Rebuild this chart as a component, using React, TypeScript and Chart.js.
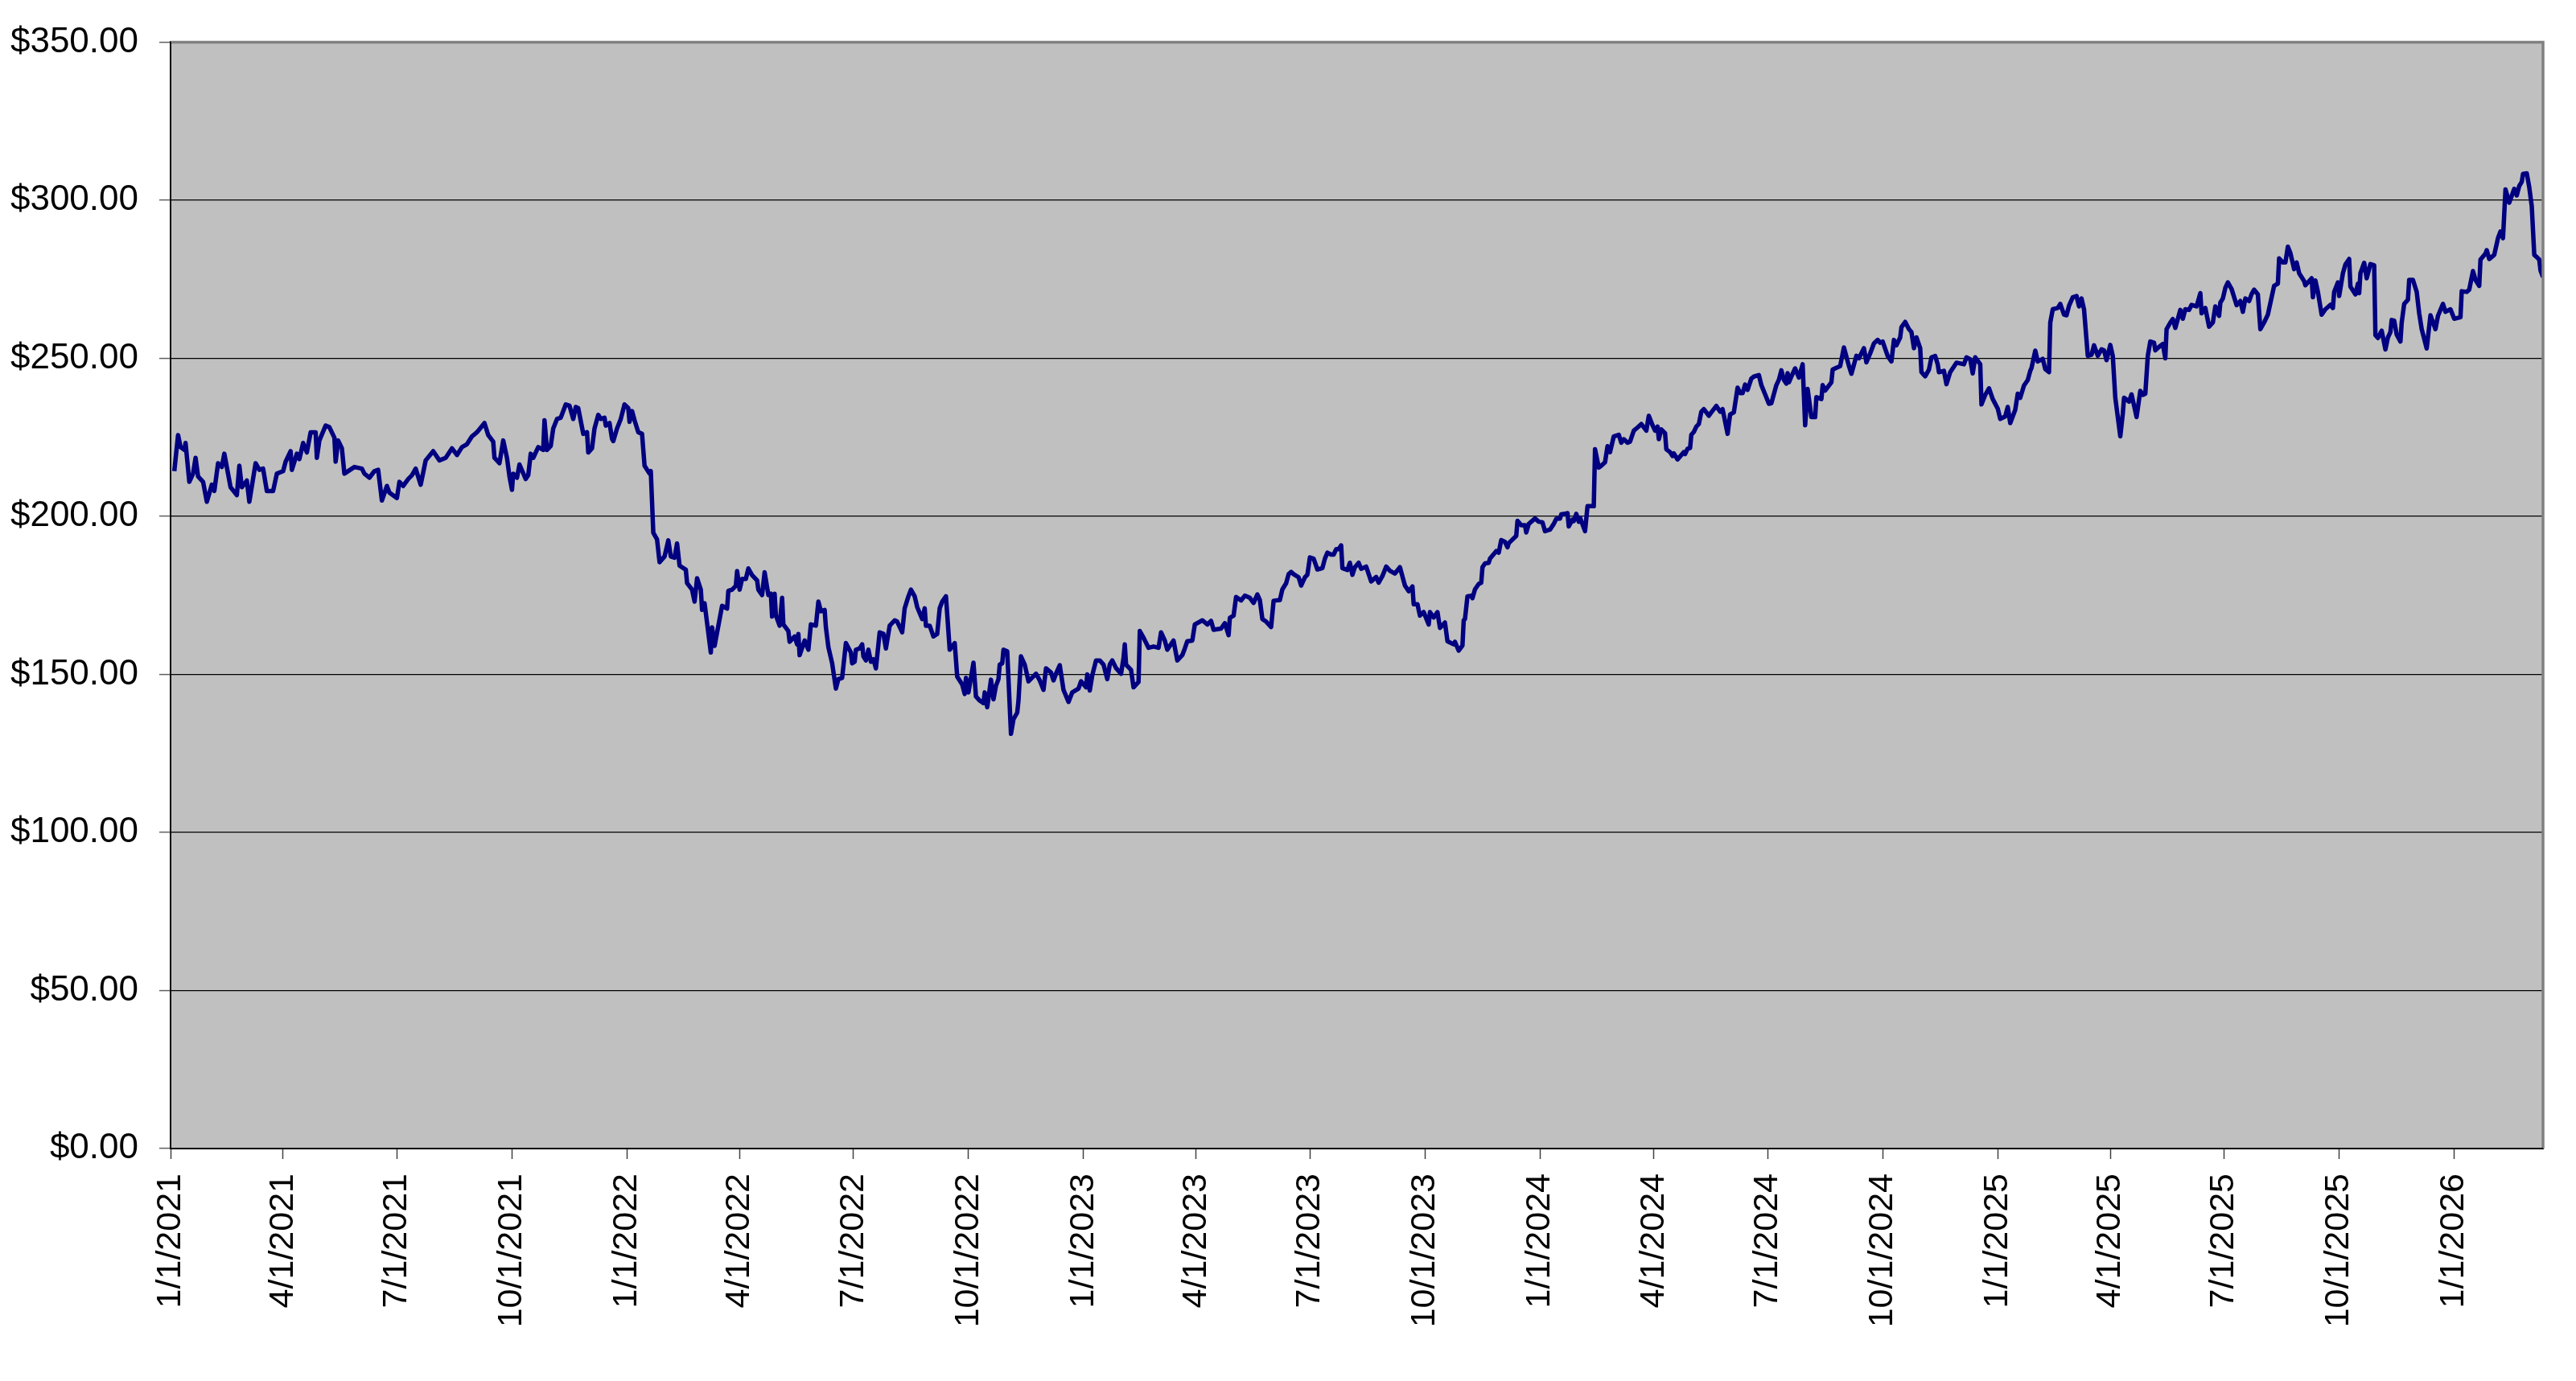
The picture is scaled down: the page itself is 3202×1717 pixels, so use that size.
import React, { useEffect, useRef } from "react";
import { Chart, registerables } from "chart.js";

Chart.register(...registerables);

// Days counted from 1/1/2021 (the date of the first axis tick)
const START_DATE = Date.UTC(2021, 0, 1);
const LAST_DAY = 1897;

const quarterLabels = [
  "1/1/2021", "4/1/2021", "7/1/2021", "10/1/2021",
  "1/1/2022", "4/1/2022", "7/1/2022", "10/1/2022",
  "1/1/2023", "4/1/2023", "7/1/2023", "10/1/2023",
  "1/1/2024", "4/1/2024", "7/1/2024", "10/1/2024",
  "1/1/2025", "4/1/2025", "7/1/2025", "10/1/2025",
  "1/1/2026",
];

const yMin = 0;
const yMax = 350;
const yStep = 50;

const days = [
  3, 6, 8, 11, 12, 15, 18, 20, 22, 26, 29, 33, 35, 38, 41, 43, 48, 53, 55, 57, 61, 63, 68, 71, 74, 77, 82, 85, 90, 92, 96, 97, 101, 103, 106, 109, 112, 116, 117, 119, 124, 127, 131, 132, 134, 137, 139, 147, 153, 155, 159, 163, 166, 169, 173, 175, 181, 183, 186, 190, 193, 196, 200, 204, 210, 215, 220, 225, 229, 233, 237,
  241, 245, 251, 254, 258, 259, 263, 266, 269, 271, 273, 274, 277, 279, 284, 286, 288, 290, 294, 298, 299, 301, 304, 306, 309, 312, 314, 316, 319, 322, 324, 326, 330, 333, 334, 337, 339, 342, 344, 347, 348, 351, 353, 354, 357, 360, 363, 366, 367, 369, 371, 374, 377, 379, 383, 384, 386, 389, 391,
  395, 398, 400, 403, 405, 407, 412, 413, 417, 419, 421, 424, 425, 427, 432, 433, 435, 441, 445, 446, 449, 452, 453, 455, 457, 460, 462, 465, 469, 470, 473, 475, 478, 480, 481, 483, 484, 487, 489, 490, 494, 495, 499, 501, 502, 503, 507, 510, 512, 516, 518, 520, 523, 524, 526, 529, 532, 534, 537, 540, 544, 545, 547, 548, 551, 553, 554, 556, 558, 560, 562, 564, 567, 570, 572, 575, 579, 581, 585, 587, 590, 592, 595, 597, 601, 603, 604, 607, 610, 613, 615, 617, 620, 623,
  627, 629, 633, 635, 636, 638, 642, 644, 647, 650, 651, 653, 656, 658, 660, 662, 663, 665, 666, 669, 672, 674, 677, 678, 680, 683, 686, 692, 695, 698, 700, 704, 706, 708, 711, 714, 718, 721, 726, 728, 732, 733, 735, 737, 740, 743, 746, 749, 751, 753, 756, 760, 762, 763, 764, 768, 770, 774, 775, 778, 782, 786, 790, 792, 795, 797, 802, 805, 809, 811, 813, 817, 819, 825, 829, 832, 834, 840, 843, 846, 847, 850, 852, 856, 859, 863, 866, 869,
  871, 873, 876, 880, 882, 887, 889, 892, 894, 896, 898, 902, 904, 907, 909, 911, 914, 917, 921, 923, 925, 928, 930, 932, 934, 936, 937, 941, 943, 945, 947, 950, 952, 956, 960, 964, 966, 969, 972, 975, 979, 983, 987, 990, 993, 994, 997, 999, 1002, 1006, 1007, 1010, 1013, 1015, 1019, 1021, 1026, 1027, 1030, 1033, 1034, 1035, 1037, 1040, 1041, 1043, 1046, 1048, 1049, 1051, 1054, 1055, 1060, 1062, 1064, 1067, 1069, 1070, 1076, 1077, 1080, 1083, 1084, 1086, 1091, 1094, 1097, 1099, 1103, 1106, 1108, 1111, 1112, 1115, 1117, 1118,
  1121, 1122, 1124, 1126, 1127, 1131, 1133, 1138, 1139, 1142, 1144, 1147, 1149, 1151, 1154, 1158, 1160, 1162, 1165, 1167, 1170, 1173, 1176, 1180, 1182, 1185, 1187, 1189, 1190, 1192, 1195, 1196, 1199, 1201, 1202, 1205, 1210, 1211, 1213, 1215, 1216, 1218, 1220, 1222, 1224, 1226, 1230, 1232, 1236, 1239, 1241, 1245, 1247, 1250, 1253, 1255, 1257, 1259, 1261, 1264, 1266, 1270, 1272, 1275, 1278, 1280, 1284, 1286, 1288, 1290, 1292, 1293, 1294, 1296, 1299, 1302, 1305, 1307, 1309, 1312, 1315, 1316, 1320, 1321, 1323, 1328, 1329, 1332, 1335, 1338, 1342, 1344, 1348, 1350, 1354, 1356,
  1359, 1362, 1365, 1367, 1369, 1373, 1376, 1378, 1380, 1383, 1384, 1387, 1390, 1392, 1394, 1396, 1399, 1400, 1403, 1406, 1408, 1411, 1413, 1414, 1418, 1420, 1423, 1428, 1434, 1436, 1439, 1441, 1443, 1447, 1448, 1451, 1454, 1457, 1461, 1463, 1467, 1469, 1471, 1475, 1477, 1479, 1482, 1485, 1487, 1488, 1491, 1493, 1497, 1499, 1502, 1503, 1505, 1509, 1511, 1514, 1516, 1518, 1521, 1524, 1526, 1528, 1530, 1533, 1536, 1538, 1541, 1544, 1546, 1548, 1551, 1553, 1555, 1559, 1561, 1562, 1566, 1568, 1572, 1575, 1577, 1579, 1581, 1583, 1586, 1587, 1590, 1593, 1595, 1596, 1599, 1601,
  1603, 1607, 1609, 1611, 1614, 1616, 1620, 1623, 1624, 1627, 1630, 1633, 1635, 1638, 1639, 1641, 1643, 1645, 1648, 1652, 1655, 1657, 1659, 1662, 1664, 1666, 1669, 1671, 1674, 1677, 1680, 1682, 1685, 1686, 1689, 1691, 1693, 1695, 1698, 1700, 1702, 1706, 1707, 1712, 1713, 1715, 1717, 1720, 1723, 1727, 1729, 1730, 1733, 1734, 1737, 1739, 1742, 1743, 1747, 1749, 1750, 1751, 1754, 1756, 1759, 1762, 1763, 1765, 1768, 1771, 1773, 1775, 1776, 1778, 1780, 1783, 1784, 1786, 1789, 1790, 1793, 1796, 1798, 1800, 1804, 1807, 1811, 1813, 1817, 1819, 1823, 1826, 1831, 1832, 1836, 1838, 1841, 1843, 1846, 1847, 1851, 1852, 1854, 1858, 1861, 1863, 1865, 1867, 1870, 1874, 1876, 1878, 1880, 1881, 1884, 1886, 1888, 1890, 1892, 1894, 1895, 1897,
];

const prices = [
  214.3, 225.7, 221.9, 221, 223.2, 210.9, 213.5, 218.5, 212.6, 210.9, 204.6, 210, 208, 216.8, 215.6, 219.8, 209.2, 206.7, 216, 209.2, 211.3, 204.6, 216.8, 214.7, 215.1, 208, 208, 213.5, 214.3, 217.3, 220.6, 214.7, 219.8, 218.1, 223.2, 220.2, 226.6, 226.6, 218.5, 224, 228.7, 228.2, 224.9, 217.3, 224, 221.5, 213.5, 215.6, 215.1, 213.5, 212.2, 214.3, 214.7, 205, 209.6, 207.5, 205.8, 210.9, 209.6, 211.8, 213, 215.1, 210, 217.7, 220.6, 217.7, 218.5, 221.5, 219.4, 221.9, 222.8,
  225.3, 226.6, 229.5, 225.7, 223.6, 218.5, 216.8, 224, 218.5, 212.6, 208.4, 213.5, 212.2, 216.4, 211.8, 213, 219.8, 218.5, 221.9, 221, 230.4, 221, 222.3, 227.8, 230.8, 231.2, 233.3, 235.4, 235, 230.8, 234.6, 234.2, 226.1, 226.6, 220.2, 221.5, 227.8, 232.1, 230.8, 231.2, 228.7, 229.5, 224.5, 223.8, 227.8, 230.8, 235.4, 234.2, 229.9, 233.3, 230.4, 226.6, 226.1, 216, 213.5, 214.3, 194.8, 192.7, 185.5,
  187.3, 192.4, 187.3, 186.9, 191.4, 184.4, 183.1, 178.9, 176.8, 173, 180.4, 176.8, 170.4, 172.5, 156.9, 164.9, 159, 171.7, 170.8, 176.4, 176.8, 178, 182.7, 176.8, 180.2, 180.2, 183.5, 181.4, 179.7, 176.8, 175.1, 182.3, 175.1, 175.5, 168.3, 175.5, 168.7, 165.4, 174.2, 165.8, 163.7, 160.3, 162, 159.5, 162.8, 156.1, 160.7, 157.8, 165.8, 165.4, 173, 170, 170.4, 164.9, 158.6, 153.5, 145.5, 148.5, 148.9, 159.9, 156.9, 153.5, 154, 157.8, 158.2, 159.5, 155.7, 154.4, 157.8, 154, 154.8, 151.9, 163.3, 162.8, 158.2, 165.4, 167.1, 166.7, 163.3, 170.9, 174.7, 176.8, 174.7, 171.3, 167.5, 170.9, 165.4, 165.4, 162, 162.8, 170.9, 173, 174.7, 157.8,
  159.9, 149.3, 146.8, 143.8, 148.9, 144.3, 153.7, 143, 141.7, 140.9, 144.3, 139.6, 148.3, 142.1, 146.4, 148.5, 153.1, 153.5, 157.8, 157.3, 131.2, 135.8, 137.9, 141.7, 155.7, 153.1, 147.8, 150.2, 148.1, 145.1, 151.9, 150.6, 148.1, 150.2, 152.9, 145.1, 141.3, 144.3, 145.5, 147.8, 145.9, 150, 144.9, 149.7, 154.4, 154.4, 153.1, 148.5, 153.1, 154.4, 152, 150.2, 155.2, 159.5, 153.1, 151.4, 145.9, 147.6, 163.7, 161.6, 158.4, 158.8, 158.4, 163.3, 160.7, 157.8, 160.7, 154.4, 156.1, 158.2, 160.5, 160.7, 165.8, 167.1, 165.8, 166.9, 164.1, 164.5, 166.2, 162.4, 167.9, 168.6, 174.5, 173.4, 174.9, 174.2, 172.6, 175.3,
  173.5, 167.5, 166.7, 165, 173.3, 173.5, 176.9, 178.8, 181.7, 182.4, 181.7, 180.7, 178.1, 180.7, 181.5, 187, 186.6, 183.2, 183.6, 186.6, 188.5, 187.9, 187.9, 189.6, 189.6, 190.8, 183.6, 183, 185.3, 181.5, 183.9, 185.3, 183.4, 184.1, 179.4, 180.8, 179, 181.1, 184.1, 182.8, 181.9, 183.9, 178.1, 176.3, 177.8, 172.2, 172.2, 168.6, 169.7, 165.8, 169.7, 168, 169.7, 164.7, 166.4, 160.5, 159.5, 160.3, 157.5, 159.1, 167.1, 167.5, 174.7, 174.9, 174.1, 176.9, 178.6, 179, 183.9, 185.1, 185.3, 186.6, 189, 188.5, 192.5, 191.9, 190.2, 191.5, 193.8, 198.6, 197.2, 197.2, 194.9, 197.6, 199.3, 198.3, 198.1, 195.3, 195.8, 197.6, 199.2, 199.3, 200.6, 200.8, 201, 196.8,
  199, 198.5, 200.8, 198.3, 199.6, 195.3, 203.2, 203.2, 221.2, 215.4, 216, 217.1, 222.2, 220.3, 225.3, 225.8, 223.3, 224.4, 223.3, 223.6, 227.1, 228.1, 229.2, 227.1, 231.8, 228.8, 227.1, 228.4, 224.4, 227.5, 226.3, 221.2, 220.3, 219.1, 219.9, 218, 220.3, 219.7, 221.4, 221.6, 225.8, 226.7, 228.4, 229.2, 233.1, 233.9, 231.8, 232.9, 234.9, 233.1, 233.9, 226.1, 232.2, 232.9, 240.7, 239, 239, 241.7, 240, 243.6, 244.2, 244.7, 241.5, 238.6, 235.6, 235.8, 241.5, 243.2, 246.2, 243.2, 242, 245.3, 242.4, 244.2, 246.8, 243.9, 248.1, 228.8, 240.3, 231.4, 231.4, 237.7, 237.1, 241.5, 239.8, 242.4, 246.4, 247, 247.5, 253.4, 247.6, 245.1, 250.8, 250, 253.2, 248.7,
  251.5, 254.7, 255.8, 254.9, 255.3, 250.7, 249, 255.8, 254.1, 256.6, 259.8, 261.5, 259.2, 258.3, 253.2, 256.6, 253.2, 245.6, 244.3, 246.4, 250.3, 250.7, 248.1, 245.6, 246, 241.8, 245.6, 248.6, 248.1, 250.3, 249.7, 245.2, 250.3, 248.1, 235.4, 238.4, 240.5, 237.1, 234.1, 230.8, 231.6, 234.6, 229.5, 233.7, 238.8, 237.5, 241.4, 243.1, 246, 246.9, 252.4, 249, 249.8, 246.6, 245.6, 261.3, 265.5, 265.9, 267.2, 263.8, 263.6, 266.6, 269.3, 269.7, 266.4, 268.9, 265.5, 250.8, 251.1, 254.1, 250.8, 252.8, 252.5, 249.4, 254.2, 250.7, 237.5, 225.3, 232.5, 237.5, 236.3, 238.6, 231.4, 239.7, 238.4, 238.8, 250.8, 255.3, 254.9, 252.5, 253.6, 254.5, 250, 259.2, 261.3, 262.4,
  259.6, 265.3, 262.5, 265.5, 265.3, 266.9, 266.4, 270.6, 264.2, 265.9, 260, 261.3, 266.4, 263.4, 267.6, 268.9, 272.3, 274, 271.9, 266.8, 268.1, 264.7, 268.9, 268.1, 270.3, 271.7, 270.2, 259.2, 261.3, 263.8, 269.3, 272.9, 273.6, 281.6, 280.3, 280.3, 285.3, 283.3, 278.2, 280.3, 276.9, 274.4, 273.1, 275.3, 269.3, 274.6, 271, 263.8, 265.5, 266.9, 265.9, 271, 274, 269.7, 276.9, 279.7, 281.4, 272.7, 270.2, 273.6, 270.6, 276.9, 280.2, 275.3, 279.8, 279.4, 257.3, 256.4, 258.7, 252.8, 256.6, 258.3, 262.1, 261.9, 257.5, 255.3, 261.3, 267.2, 268.5, 274.8, 274.8, 271, 264.2, 259.2, 253.1, 263.6, 259.2, 263.4, 267.2, 264.7, 265.5, 262.5, 263, 271.2, 271, 271.7, 277.6, 274.8, 272.9, 281.2, 283.1, 284.2, 281.4, 282.7, 288, 290.1, 288, 303.4, 299.2, 303.6, 301.5, 304.5, 305.8, 308.3, 308.5, 304.1, 298.1, 282.7, 282, 281.2, 277.8, 275.7,
];

function dayOfLabel(label: string): number {
  const [m, d, y] = label.split("/").map(Number);
  return Math.round((Date.UTC(y, m - 1, d) - START_DATE) / 86400000);
}

const FONT = "'Liberation Sans', Arial, sans-serif";

export default function App() {
  const canvasRef = useRef<HTMLCanvasElement | null>(null);

  useEffect(() => {
    const canvas = canvasRef.current;
    if (!canvas) return;

    const tickDays = quarterLabels.map(dayOfLabel);
    const labelByDay: Record<number, string> = {};
    tickDays.forEach((d, i) => (labelByDay[d] = quarterLabels[i]));

    const plotFrame = {
      id: "plotFrame",
      beforeDraw(chart: any) {
        const { ctx, chartArea: a } = chart;
        ctx.save();
        ctx.fillStyle = "#C0C0C0";
        ctx.fillRect(a.left, a.top, a.right - a.left, a.bottom - a.top);
        ctx.restore();
      },
      afterDraw(chart: any) {
        const { ctx, chartArea: a } = chart;
        ctx.save();
        ctx.strokeStyle = "#808080";
        ctx.lineWidth = 3.5;
        ctx.beginPath();
        ctx.moveTo(a.left, a.top);
        ctx.lineTo(a.right, a.top);
        ctx.lineTo(a.right, a.bottom);
        ctx.stroke();
        ctx.strokeStyle = "#000000";
        ctx.lineWidth = 2;
        ctx.beginPath();
        ctx.moveTo(a.left, a.top);
        ctx.lineTo(a.left, a.bottom);
        ctx.lineTo(a.right, a.bottom);
        ctx.stroke();
        ctx.restore();
      },
    };

    const chart = new Chart(canvas, {
      type: "line",
      data: {
        datasets: [
          {
            data: days.map((d, i) => ({ x: d, y: prices[i] })),
            borderColor: "#000080",
            borderWidth: 5.5,
            borderJoinStyle: "round",
            pointRadius: 0,
            tension: 0,
            fill: false,
          },
        ],
      },
      options: {
        animation: false,
        responsive: false,
        maintainAspectRatio: false,
        layout: { padding: { top: 47, right: 41, left: 0, bottom: 0 } },
        plugins: {
          legend: { display: false },
          tooltip: { enabled: false },
        },
        scales: {
          x: {
            type: "linear",
            min: 0,
            max: LAST_DAY,
            afterBuildTicks: (scale: any) => {
              scale.ticks = tickDays.map((v) => ({ value: v }));
            },
            afterFit: (scale: any) => {
              scale.height = 289;
            },
            ticks: {
              autoSkip: false,
              maxRotation: 90,
              minRotation: 90,
              padding: 18,
              color: "#000000",
              font: { family: FONT, size: 43 },
              callback: (v: any) => labelByDay[Math.round(Number(v))] ?? "",
            },
            grid: {
              drawOnChartArea: false,
              drawTicks: true,
              tickLength: 13,
              tickColor: "#404040",
              tickWidth: 1.5,
            },
            border: { display: true, color: "#000000", width: 2 },
          },
          y: {
            min: yMin,
            max: yMax,
            afterFit: (scale: any) => {
              scale.width = 212;
            },
            ticks: {
              stepSize: yStep,
              padding: 26,
              color: "#000000",
              font: { family: FONT, size: 44 },
              callback: (v: any) => "$" + Number(v).toFixed(2),
            },
            grid: {
              color: "#000000",
              lineWidth: 1.2,
              drawTicks: true,
              tickLength: 14,
              tickColor: "#606060",
              tickWidth: 1.5,
            },
            border: { display: true, color: "#000000", width: 2 },
          },
        },
      },
      plugins: [plotFrame],
    } as any);

    return () => chart.destroy();
  }, []);

  return (
    <div
      style={{
        position: "fixed",
        left: 0,
        top: 0,
        width: 3202,
        height: 1717,
        background: "#ffffff",
      }}
    >
      <canvas ref={canvasRef} width={3202} height={1717} style={{ width: 3202, height: 1717, display: "block" }} />
    </div>
  );
}
